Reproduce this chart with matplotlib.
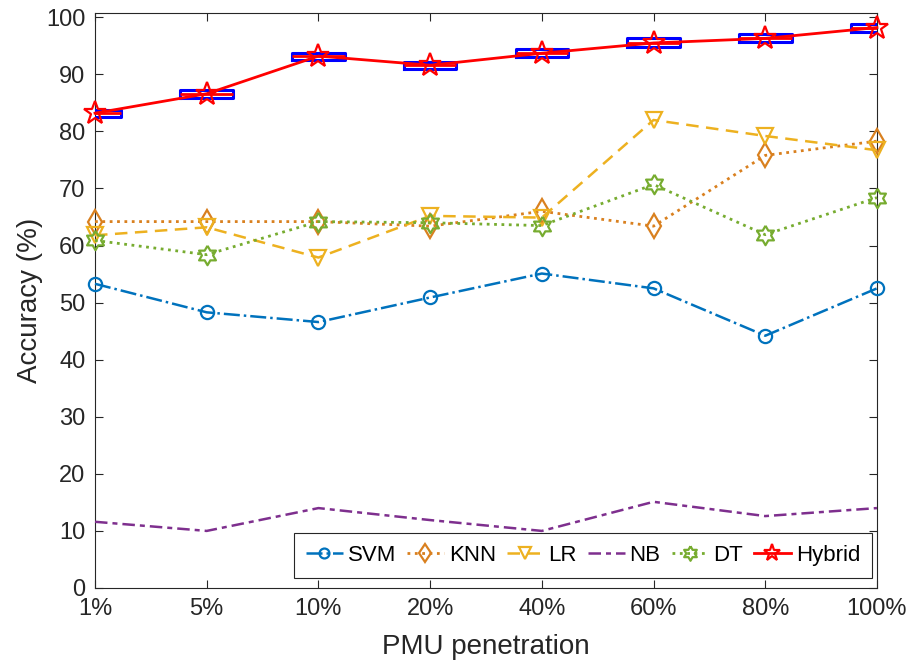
import matplotlib
matplotlib.use("Agg")
import matplotlib.pyplot as plt
import numpy as np

plt.rcParams["font.family"] = ["Liberation Sans", "DejaVu Sans"]

# 数据
penetration = ["1%", "5%", "10%", "20%", "40%", "60%", "80%", "100%"]
svm = [53.3, 48.3, 46.6, 50.9, 55.1, 52.5, 44.2, 52.5]
knn = [64.2, 64.2, 64.2, 63.4, 66.0, 63.4, 75.8, 78.3]
lr = [61.8, 63.2, 57.9, 65.2, 64.9, 82.0, 79.2, 76.7]
nb = [11.6, 10.0, 14.0, 11.9, 10.0, 15.1, 12.6, 14.0]
dt = [60.9, 58.4, 64.2, 64.0, 63.5, 70.7, 61.9, 68.4]
hybrid = [83.2, 86.6, 93.2, 91.6, 93.7, 95.5, 96.3, 98.2]
hybrid_q1 = [82.6, 85.9, 92.6, 90.9, 93.0, 94.8, 95.6, 97.5]
hybrid_q3 = [83.8, 87.2, 93.8, 92.2, 94.4, 96.3, 97.0, 98.9]

C_SVM = "#0072BD"
C_KNN = "#D9801F"
C_LR = "#EDB120"
C_NB = "#7E2F8E"
C_DT = "#77AC30"
TXT = "#262626"

# 六角星标记
ang = np.pi / 2 + np.arange(12) * np.pi / 6
rad = np.where(np.arange(12) % 2 == 0, 1.0, 0.577)
hexagram = list(zip(rad * np.cos(ang), rad * np.sin(ang)))
hexagram.append(hexagram[0])

fig = plt.figure(figsize=(9.1, 6.62), dpi=100)
ax = fig.add_axes([0.1044, 0.1118, 0.8593, 0.869])

x = np.arange(len(penetration))
lw = 1.8

ax.plot(x, svm, linestyle="-.", color=C_SVM, lw=lw, marker="o", ms=9.5,
        mfc="none", mew=1.6, label="SVM", clip_on=False, zorder=3)
ax.plot(x, knn, linestyle=":", color=C_KNN, lw=lw + 0.2, marker="d", ms=12.5,
        mfc="none", mew=1.6, label="KNN", clip_on=False, zorder=3)
ax.plot(x, lr, linestyle=(0, (5, 3)), color=C_LR, lw=lw, marker="v", ms=12,
        mfc="none", mew=1.6, label="LR", clip_on=False, zorder=3)
ax.plot(x, nb, linestyle=(0, (5, 2, 2, 2)), color=C_NB, lw=lw,
        label="NB", clip_on=False, zorder=3)
ax.plot(x, dt, linestyle=":", color=C_DT, lw=lw + 0.2, marker=hexagram, ms=14,
        mfc="none", mew=1.6, label="DT", clip_on=False, zorder=3)

# 箱线图
stats = []
for med, q1, q3 in zip(hybrid, hybrid_q1, hybrid_q3):
    stats.append({"med": med, "q1": q1, "q3": q3, "whislo": q1, "whishi": q3, "fliers": []})
ax.bxp(stats, positions=x, widths=0.47, showcaps=False, showfliers=False,
       patch_artist=False, manage_ticks=False,
       boxprops=dict(color="#0000FF", lw=2.2),
       whiskerprops=dict(color="#0000FF", lw=0),
       medianprops=dict(color="red", lw=2.0), zorder=3)

ax.plot(x, hybrid, linestyle="-", color="red", lw=2.0, marker="*", ms=17,
        mfc="none", mew=1.6, label="Hybrid", clip_on=False, zorder=4)

ax.set_xlim(0, 7)
ax.set_ylim(0, 100.8)
ax.set_xticks(x)
ax.set_xticklabels(penetration)
ax.set_yticks(np.arange(0, 101, 10))

ax.tick_params(direction="in", length=6, width=0.8, colors=TXT, labelsize=17,
               top=True, right=True, pad=7)
for s in ax.spines.values():
    s.set_color(TXT)
    s.set_linewidth(0.8)

ax.set_xlabel("PMU penetration", fontsize=20, color=TXT, labelpad=10)
ax.set_ylabel("Accuracy (%)", fontsize=20, color=TXT, labelpad=2)

leg = ax.legend(loc="lower right", bbox_to_anchor=(0.994, 0.017), ncol=6,
                fontsize=16, handlelength=1.65, handletextpad=0.22,
                columnspacing=0.5, borderpad=0.55, borderaxespad=0,
                markerscale=0.75, fancybox=False, framealpha=1, edgecolor=TXT)
leg.get_frame().set_linewidth(0.8)

fig.savefig("out.png", dpi=100)
